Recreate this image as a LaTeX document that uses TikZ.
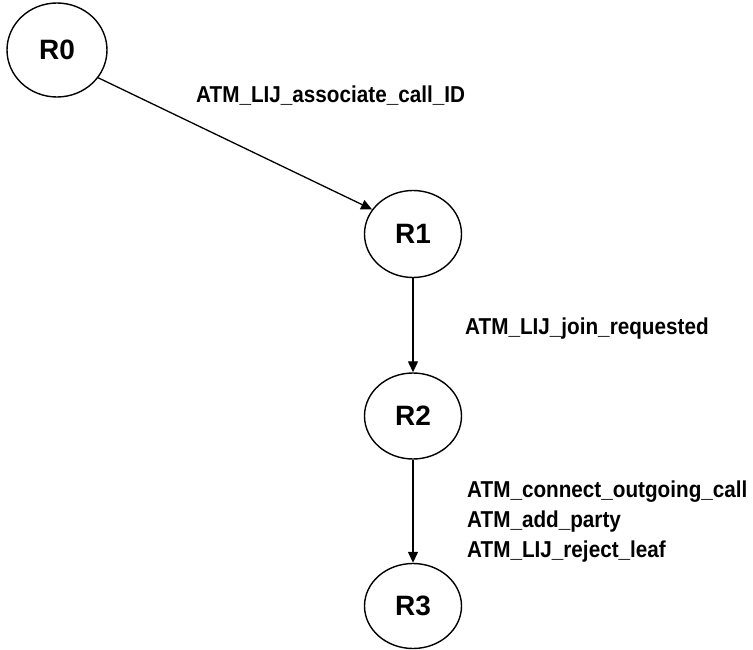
\documentclass[tikz,border=0pt]{standalone}
\usepackage{fontspec}
\setmainfont{Liberation Sans}
\newfontfamily\evtfont[FakeStretch=0.9]{Liberation Sans}
\usetikzlibrary{arrows.meta,shapes.geometric}
\begin{document}
\begin{tikzpicture}[x=1pt,y=-1pt,
  state/.style={draw, ellipse, line width=1.4pt, inner sep=0pt,
    minimum width=97pt, minimum height=87pt,
    font=\fontsize{28}{30}\selectfont\bfseries},
  trans/.style={-{Triangle[length=11pt,width=10pt]}, line width=1.3pt},
  evt/.style={inner sep=0pt, anchor=base west, align=left,
    font=\evtfont\fontsize{23}{30}\selectfont\bfseries}]
\useasboundingbox (0,0) rectangle (753,650);

% states
\node[state, minimum width=100pt, minimum height=94pt] (R0) at (57,50) {R0};
\node[state] (R1) at (413,234) {R1};
\node[state, minimum height=86pt] (R2) at (413,416) {R2};
\node[state, minimum height=85pt] (R3) at (413,606) {R3};

% transitions
\draw[trans] (R0.-34) -- (R1.149);
\draw[trans] (R1) -- (R2);
\draw[trans] (R2) -- (R3);

% events (base anchor of a multi-line node sits on its last line)
\node[evt] (e01) at (196,103) {ATM\_LIJ\_associate\_call\_ID};
\node[evt] (e12) at (465,334) {ATM\_LIJ\_join\_requested};
\node[evt] (e23) at (467,557) {ATM\_connect\_outgoing\_call\\ATM\_add\_party\\ATM\_LIJ\_reject\_leaf};
\end{tikzpicture}
\end{document}
